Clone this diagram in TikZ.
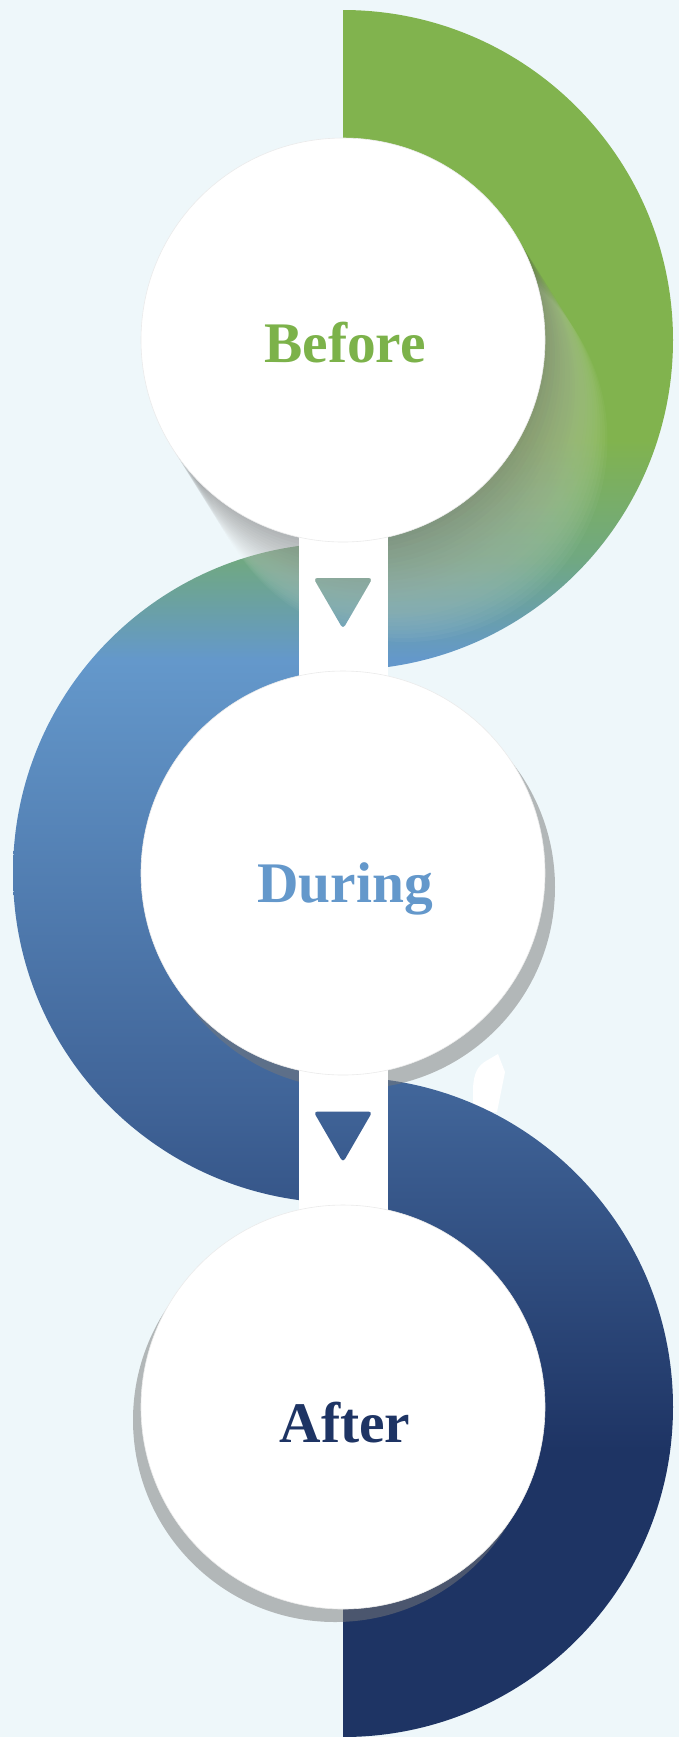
\documentclass[tikz,border=0pt]{standalone}
\usepackage{fontspec}
\setmainfont{Liberation Serif}
\usepackage{tikz}
\usetikzlibrary{positioning, calc}
\definecolor{pagebg}{RGB}{238, 247, 250}
\definecolor{leaf}{RGB}{129, 179, 78}
\definecolor{leaftext}{RGB}{124, 178, 74}
\definecolor{tealmix}{RGB}{112, 168, 130}
\definecolor{sky}{RGB}{100, 152, 203}
\definecolor{steel}{RGB}{64, 100, 152}
\definecolor{deepnavy}{RGB}{30, 52, 100}
\definecolor{rimgrey}{RGB}{120, 120, 120}
\pgfdeclareverticalshading{flow}{100bp}{color(0bp)=(deepnavy); color(33.26bp)=(deepnavy); color(43.34bp)=(steel); color(56bp)=(sky); color(58.88bp)=(tealmix); color(62.33bp)=(leaf); color(100bp)=(leaf)}
\pgfdeclarelayer{discs}
\pgfdeclarelayer{shadows}
\pgfdeclarelayer{bars}
\pgfsetlayers{discs,shadows,bars,main}
\newcommand{\stageshadows}{%
  \foreach \k [evaluate=\k as \p using int(100-4*\k)] in {1,...,25}
    \fill[longshade, fill=black!\p!white] ($(before.center)+(2.5*\k,4*\k)$) circle (202);
  \fill[rimshade] ($(during.center)+(10,14)$) circle (202);
  \fill[rimshade] ($(after.center)+(-8,13)$) circle (202);
}

\begin{document}
\begin{tikzpicture}[
    x=0.5pt, y=-0.5pt,
    stage/.style={circle, fill=white, draw=black!8, line width=0.3pt, minimum size=202pt, inner sep=0pt},
    stagetext/.style={anchor=base, font=\fontsize{28.7}{30}\selectfont\bfseries},
    bar/.style={white, line width=44.5pt},
    flowshade/.style={shading=flow},
    longshade/.style={opacity=0.036},
    rimshade/.style={fill=rimgrey, opacity=0.5}
  ]
  \useasboundingbox (0,0) rectangle (679,1737);

  % Nodes
  \node[stage] (before) at (343,340) {};
  \node[stage] (during) at (343,873) {};
  \node[stage] (after) at (343,1407) {};
  \node[stagetext, text=leaftext] (beforelabel) at (345,362) {Before};
  \node[stagetext, text=sky] (duringlabel) at (345,902) {During};
  \node[stagetext, text=deepnavy] (afterlabel) at (345,1442) {After};

  % Half discs
  \begin{pgfonlayer}{discs}
    \fill[pagebg] (0,0) rectangle (679,1737);
    \fill[white] (473,1112) -- (473,1088) .. controls (474,1072) and (478,1066) .. (486,1061) -- (498,1054) -- (505,1072) -- (497,1112) -- cycle;
    \begin{scope}
      \clip (343,0) rectangle (679,700);
      \clip (before.center) circle (330);
      \shade[flowshade] (0,0) rectangle (679,1737);
    \end{scope}
    \begin{scope}
      \clip (0,500) rectangle (343,1250);
      \clip (during.center) circle (330);
      \shade[flowshade] (0,0) rectangle (679,1737);
    \end{scope}
    \begin{scope}
      \clip (343,1000) rectangle (679,1737);
      \clip (after.center) circle (330);
      \shade[flowshade] (0,0) rectangle (679,1737);
    \end{scope}
  \end{pgfonlayer}

  % Shadows
  \begin{pgfonlayer}{shadows}
    \stageshadows
  \end{pgfonlayer}

  % Connectors
  \begin{pgfonlayer}{bars}
    \draw[bar] (before.center) -- (during.center);
    \draw[bar] (during.center) -- (after.center);
    \coordinate (gap1) at ($(before.center)!0.5!(during.center)$);
    \coordinate (gap2) at ($(during.center)!0.5!(after.center)$);
    \foreach \g in {gap1, gap2} {
      \begin{scope}
        \clip[rounded corners=2pt] ($(\g)+(-29.5,-28.5)$) -- ($(\g)+(29.5,-28.5)$) -- ($(\g)+(0,22.5)$) -- cycle;
        \shade[flowshade] (0,0) rectangle (679,1737);
        \stageshadows
      \end{scope}
    }
  \end{pgfonlayer}
\end{tikzpicture}
\end{document}
